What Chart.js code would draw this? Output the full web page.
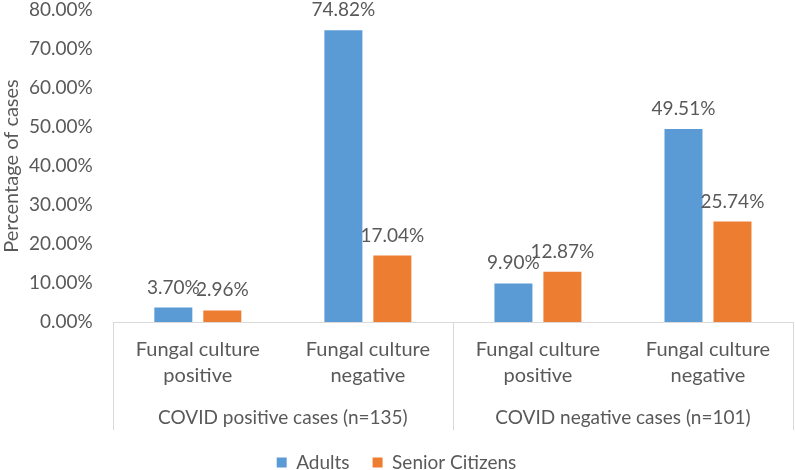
<!DOCTYPE html>
<html>
<head>
  <title>Fungal culture by COVID status</title>
  <script src="https://cdn.jsdelivr.net/npm/chart.js@4/dist/chart.umd.min.js"></script>
  <style>
    body { margin: 0; background: #fff; }
  </style>
</head>
<body>
  <canvas id="chartCanvas" width="795" height="470"></canvas>

  <script>
    const categories = [['Fungal culture', 'positive'], ['Fungal culture', 'negative'], ['Fungal culture', 'positive'], ['Fungal culture', 'negative']];
    const groups = ['COVID positive cases (n=135)', 'COVID negative cases (n=101)'];
    const adults = [3.70, 74.82, 9.90, 49.51];
    const seniors = [2.96, 17.04, 12.87, 25.74];
    const yTicks = [0, 10, 20, 30, 40, 50, 60, 70, 80];

    const textColor = '#595959';
    const lineColor = '#d9d9d9';
    const fontFamily = 'Lato, "Open Sans", sans-serif';

    // value labels over the bars
    const valueLabels = {
      id: 'valueLabels',
      afterDatasetsDraw(chart) {
        const ctx = chart.ctx;
        ctx.save();
        ctx.fillStyle = textColor;
        ctx.font = '19px ' + fontFamily;
        ctx.textAlign = 'center';
        ctx.textBaseline = 'alphabetic';
        chart.data.datasets.forEach((ds, i) => {
          chart.getDatasetMeta(i).data.forEach((bar, j) => {
            ctx.fillText(ds.data[j].toFixed(2) + '%', bar.x, bar.y - 14);
          });
        });
        ctx.restore();
      }
    };

    // separators and group names of the grouped category axis
    const groupLines = {
      id: 'groupLines',
      afterDraw(chart) {
        const ctx = chart.ctx;
        const x = chart.scales.x;
        const x2 = chart.scales.x2;
        const w = (x.right - x.left) / categories.length;
        const top = chart.chartArea.bottom;
        ctx.save();
        ctx.strokeStyle = lineColor;
        ctx.lineWidth = 1;
        ctx.beginPath();
        ctx.moveTo(x.left, top + 0.5);
        ctx.lineTo(x.right, top + 0.5);
        for (let k = 0; k <= groups.length; k++) {
          const px = Math.round(x.left + k * 2 * w) + 0.5;
          ctx.moveTo(px, top);
          ctx.lineTo(px, x2.bottom);
        }
        ctx.stroke();

        ctx.fillStyle = textColor;
        ctx.font = '19px ' + fontFamily;
        ctx.textAlign = 'center';
        ctx.textBaseline = 'middle';
        groups.forEach((g, i) => {
          ctx.fillText(g, x2.getPixelForTick(i), x2.bottom - 12);
        });
        ctx.restore();
      }
    };

    const ctx = document.getElementById('chartCanvas').getContext('2d');

    new Chart(ctx, {
      type: 'bar',
      data: {
        labels: categories,
        datasets: [{
          label: 'Adults',
          data: adults,
          backgroundColor: '#5b9bd5',
          categoryPercentage: 0.576,
          barPercentage: 0.776
        }, {
          label: 'Senior Citizens',
          data: seniors,
          backgroundColor: '#ed7d31',
          categoryPercentage: 0.576,
          barPercentage: 0.776
        }]
      },
      options: {
        responsive: false,
        animation: false,
        layout: { padding: { top: 0, right: 2, left: 0, bottom: -12 } },
        plugins: {
          tooltip: { enabled: false },
          legend: {
            position: 'bottom',
            labels: {
              color: textColor,
              font: { size: 19, family: fontFamily },
              boxWidth: 10,
              boxHeight: 10,
              padding: 23
            }
          }
        },
        scales: {
          x: {
            grid: { display: false },
            border: { display: false },
            afterFit(scale) {
              scale.height = 68;
            },
            ticks: {
              color: textColor,
              font: { size: 20, family: fontFamily, lineHeight: 1.3 },
              padding: 7,
              maxRotation: 0
            }
          },
          x2: {
            type: 'category',
            labels: groups,
            position: 'bottom',
            offset: true,
            grid: { display: false },
            border: { display: false },
            afterFit(scale) {
              scale.height = 40;
            },
            ticks: { display: false }
          },
          y: {
            min: 0,
            max: 80,
            afterBuildTicks(scale) {
              scale.ticks = yTicks.map(v => ({ value: v }));
            },
            afterFit(scale) {
              scale.paddingTop = 10;
            },
            grid: { display: false },
            border: { display: false },
            title: {
              display: true,
              text: 'Percentage of cases',
              color: textColor,
              font: { size: 20, family: fontFamily },
              padding: { top: 0, bottom: -7 }
            },
            ticks: {
              color: textColor,
              font: { size: 19, family: fontFamily },
              padding: 12,
              callback: v => v.toFixed(2) + '%'
            }
          }
        }
      },
      plugins: [valueLabels, groupLines]
    });
  </script>
</body>
</html>
